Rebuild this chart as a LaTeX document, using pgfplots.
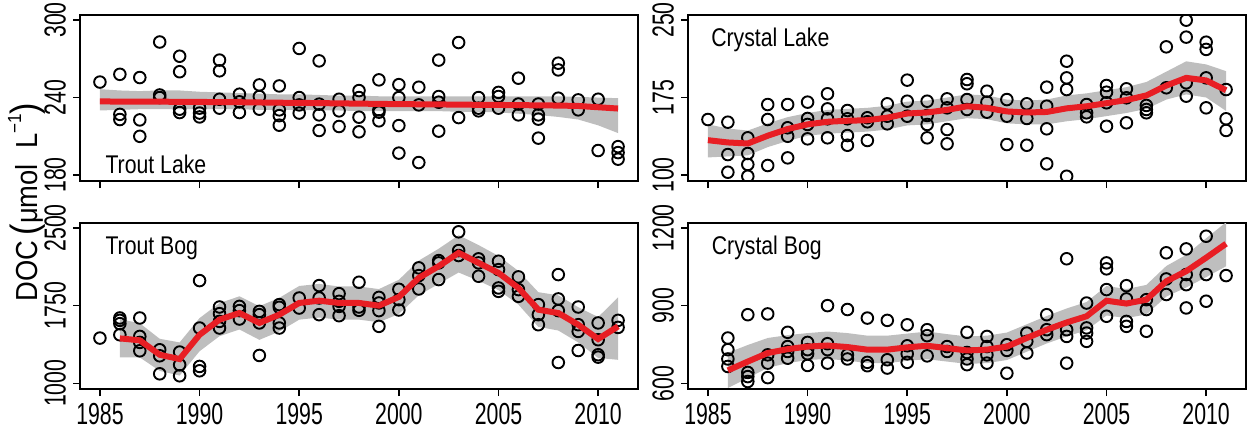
\documentclass[border=0pt]{standalone}
\usepackage{fontspec}
\setmainfont{Liberation Sans}
\newfontfamily\tickfont[FakeStretch=0.7]{Liberation Sans}
\newfontfamily\labfont[FakeStretch=0.83]{Liberation Sans}
\newfontfamily\ylabfont[FakeStretch=0.9]{Liberation Sans}
\usepackage{pgfplots}
\pgfplotsset{compat=1.18}
\usepackage{pgfplotstable}
\usepgfplotslibrary{groupplots,fillbetween}

\definecolor{fitred}{RGB}{232,30,36}
\definecolor{bandgray}{RGB}{190,190,190}

% fitted trend with confidence band
\pgfplotstableread{
yr fit lo hi
1985 237.0 230.0 246.5
1986 236.9 230.5 245.5
1987 236.8 231.0 245.0
1988 236.8 231.0 245.5
1989 236.7 231.0 245.5
1990 236.6 231.0 244.5
1991 236.5 231.0 244.0
1992 236.4 231.0 243.5
1993 236.2 230.5 243.0
1994 236.0 230.5 242.5
1995 235.9 230.5 242.5
1996 235.7 230.0 242.0
1997 235.5 230.0 241.5
1998 235.3 229.5 241.5
1999 235.1 229.5 241.0
2000 234.9 229.5 241.0
2001 234.8 229.5 241.0
2002 234.7 229.5 241.0
2003 234.5 229.0 241.0
2004 234.4 229.0 241.0
2005 234.3 228.5 241.0
2006 234.1 227.5 241.0
2007 234.0 226.5 241.0
2008 233.8 225.0 241.0
2009 233.5 223.0 240.5
2010 232.5 218.5 240.0
2011 231.5 212.5 239.5
}\tlfit

\pgfplotstableread{
yr fit lo hi
1985 133.7 117 149
1986 131.5 118 145
1987 130.5 119 143
1988 138.0 127 150
1989 144.5 133 156
1990 149.0 138 160
1991 151.5 140 163
1992 152.5 141 164
1993 153.0 142 165
1994 155.5 144 167
1995 159.5 148 171
1996 160.5 149 172
1997 163.0 152 175
1998 166.5 155 178
1999 165.0 154 177
2000 161.5 150 173
2001 160.5 149 172
2002 161.0 149 173
2003 164.5 152 177
2004 166.5 154 179
2005 169.5 157 182
2006 172.5 160 185
2007 177.0 164 190
2008 186.5 173 200
2009 194.0 178 210
2010 191.5 175 207
2011 182.0 162 200.5
}\clfit

\pgfplotstableread{
yr fit lo hi
1986 1434 1250 1620
1987 1415 1250 1580
1988 1276 1120 1430
1989 1234 1075 1395
1990 1469 1310 1630
1991 1615 1455 1775
1992 1679 1520 1840
1993 1583 1420 1745
1994 1663 1500 1825
1995 1776 1615 1940
1996 1798 1635 1960
1997 1776 1615 1935
1998 1776 1615 1935
1999 1750 1590 1910
2000 1834 1670 2000
2001 2018 1850 2185
2002 2131 1960 2300
2003 2260 2070 2430
2004 2163 1990 2335
2005 2066 1900 2230
2006 1921 1760 2085
2007 1711 1545 1880
2008 1679 1510 1850
2009 1566 1395 1735
2010 1428 1245 1640
2011 1550 1227 1830
}\tbfit

\pgfplotstableread{
yr fit lo hi
1986 650 582 718
1987 684 620 748
1988 717 660 775
1989 732 678 786
1990 742 690 794
1991 746 694 800
1992 740 688 794
1993 730 678 784
1994 730 678 784
1995 739 687 792
1996 745 693 800
1997 736 684 790
1998 727 675 781
1999 730 678 784
2000 742 690 796
2001 775 722 828
2002 807 754 860
2003 835 781 889
2004 859 805 914
2005 919 862 976
2006 908 852 964
2007 923 866 980
2008 994 935 1053
2009 1033 970 1096
2010 1085 1010 1160
2011 1139 1052 1222
}\cbfit

% observations
\pgfplotstableread{
x y
1985 252
1986 258
1986 227
1986 223
1987 255.5
1987 222.7
1987 210
1988 283
1988 242
1988 240
1989 272
1989 260
1989 231
1989 228.4
1990 231.8
1990 228
1990 225
1991 269
1991 260.7
1991 238.7
1991 231.8
1992 242.6
1992 236.7
1992 228.4
1993 249.8
1993 240.8
1993 231
1994 249
1994 230.5
1994 226
1994 218.6
1995 278
1995 240
1995 234.3
1995 228
1996 268.4
1996 234.9
1996 226.6
1996 214.5
1997 238.7
1997 229.7
1997 217.6
1998 245.4
1998 240
1998 224.8
1998 213.5
1999 253.7
1999 230.5
1999 228.7
1999 222
2000 250
2000 240
2000 218.3
2000 197
2001 248
2001 234.3
2001 189.7
2002 269
2002 240.8
2002 236.4
2002 214
2003 282.6
2003 224.5
2004 240
2004 231.8
2004 229.7
2005 244
2005 240.8
2005 231.8
2006 255
2006 235
2006 226.6
2007 235
2007 226.6
2007 223.3
2007 208.6
2008 266.6
2008 261.4
2008 239.5
2009 238.2
2009 230.5
2010 238.7
2010 199
2011 202
2011 197.4
2011 192.3
}\tlpts

\pgfplotstableread{
x y
1985 153.7
1986 151.1
1986 119.8
1986 102.7
1987 136
1987 120.8
1987 110.2
1987 98.8
1988 168.2
1988 153.7
1988 109.2
1989 168.2
1989 145.7
1989 137.5
1989 116.6
1990 170.5
1990 154.7
1990 148.9
1990 135
1991 178.6
1991 164
1991 154.4
1991 136
1992 162.4
1992 154.4
1992 138.2
1992 128.8
1993 155.4
1993 151.5
1993 133.4
1994 168.9
1994 156.9
1994 149.5
1995 191.8
1995 171.4
1995 156.9
1996 171.4
1996 157.6
1996 148.9
1996 136
1997 173.7
1997 165
1997 144
1997 130.2
1998 192.4
1998 188.3
1998 173
1998 163.4
1999 181.1
1999 170.5
1999 160.8
2000 173
2000 156.9
2000 129.5
2001 168.9
2001 154.7
2001 128.8
2002 185
2002 166.6
2002 144.7
2002 110.8
2003 210.1
2003 194
2003 182.7
2003 98.8
2004 168.2
2004 160.2
2004 156.3
2005 186.6
2005 180.1
2005 169.9
2005 147.2
2006 183.4
2006 174.7
2006 150.5
2007 167.3
2007 163.4
2007 160.2
2008 224
2008 184.4
2009 249.8
2009 233.4
2009 189.2
2009 176.3
2010 228.5
2010 221.5
2010 194
2010 165
2011 182.7
2011 154.4
2011 143.1
}\clpts

\pgfplotstableread{
x y
1985 1437
1986 1631
1986 1608
1986 1576
1986 1469
1987 1631
1987 1453
1987 1395
1987 1314
1988 1324
1988 1266
1988 1092
1989 1302
1989 1179
1989 1073
1990 1992
1990 1534
1990 1163
1990 1121
1991 1737
1991 1673
1991 1598
1991 1534
1992 1743
1992 1702
1992 1621
1993 1695
1993 1663
1993 1583
1993 1269
1994 1760
1994 1734
1994 1583
1994 1534
1995 1824
1995 1727
1996 1944
1996 1824
1996 1663
1997 1866
1997 1792
1997 1743
1997 1653
1998 1976
1998 1737
1998 1705
1999 1830
1999 1776
1999 1702
1999 1550
2000 1908
2000 1808
2000 1708
2001 2115
2001 2040
2001 1911
2002 2185
2002 2163
2002 2002
2003 2463
2003 2282
2003 2234
2004 2202
2004 2163
2004 2034
2005 2179
2005 2098
2005 1921
2005 1888
2006 2028
2006 1905
2006 1840
2007 1760
2007 1663
2007 1566
2008 2050
2008 1815
2008 1702
2008 1201
2009 1737
2009 1566
2009 1501
2009 1317
2010 1583
2010 1421
2010 1276
2010 1253
2011 1608
2011 1540
}\tbpts

\pgfplotstableread{
x y
1986 775
1986 730
1986 694
1986 665
1987 865
1987 642
1987 626
1987 607
1988 868
1988 710
1988 678
1988 622
1989 797
1989 742
1989 723
1989 697
1990 758
1990 730
1990 714
1990 669
1991 900
1991 753
1991 730
1991 678
1992 885
1992 710
1992 694
1993 852
1993 681
1993 668
1994 843
1994 691
1994 659
1995 826
1995 745
1995 714
1995 681
1996 807
1996 784
1996 706
1997 742
1997 723
1998 797
1998 719
1998 694
1998 672
1999 781
1999 742
1999 710
1999 678
2000 749
2000 727
2000 639
2001 794
2001 762
2001 717
2002 865
2002 807
2002 788
2003 1081
2003 807
2003 781
2003 678
2004 910
2004 814
2004 794
2004 762
2005 1065
2005 1042
2005 962
2005 859
2006 977
2006 926
2006 839
2006 820
2007 923
2007 885
2007 801
2008 1104
2008 1003
2008 943
2009 1119
2009 1020
2009 981
2009 891
2010 1168
2010 1020
2010 917
2011 1233
2011 1016
}\cbpts

\pgfplotsset{
  doc/.style={
    width=279pt, height=83pt, scale only axis,
    xmin=1984, xmax=2012,
    xtick={1985,1990,...,2010},
    tick align=outside, xtick pos=left, ytick pos=left,
    major tick length=3.5pt,
    axis line style={line width=0.75pt},
    every tick/.style={black, line width=0.75pt},
    /pgf/number format/1000 sep={},
    /pgf/number format/assume math mode=true,
    ticklabel style={font=\tickfont\fontsize{15.2}{16}\selectfont},
    yticklabel style={rotate=90, anchor=south},
    clip marker paths=true,
  },
  pts/.style={only marks, mark=o, mark size=2.9pt, black, mark options={line width=0.95pt}},
  fit/.style={fitred, line width=3pt, no marks},
  cband/.style={fill=bandgray, draw=none},
}
\tikzset{plab/.style={anchor=base west, inner sep=0pt, font=\labfont\fontsize{12.8}{14}\selectfont}}

\begin{document}
\begin{tikzpicture}
\begin{groupplot}[group style={group size=2 by 2, horizontal sep=25pt, vertical sep=21pt}, doc]

\nextgroupplot[ymin=175.4, ymax=303.9, ytick={180,240,300}, xticklabels={}]
\addplot[name path=tlhi, draw=none, forget plot] table[x=yr, y=hi] {\tlfit};
\addplot[name path=tllo, draw=none, forget plot] table[x=yr, y=lo] {\tlfit};
\addplot[cband] fill between[of=tlhi and tllo];
\addplot[pts] table {\tlpts};
\addplot[fit] table[x=yr, y=fit] {\tlfit};
\node[plab] at (rel axis cs:0.045,0.048) {Trout Lake};

\nextgroupplot[ymin=94.2, ymax=254.8, ytick={100,175,250}, xticklabels={}]
\addplot[name path=clhi, draw=none, forget plot] table[x=yr, y=hi] {\clfit};
\addplot[name path=cllo, draw=none, forget plot] table[x=yr, y=lo] {\clfit};
\addplot[cband] fill between[of=clhi and cllo];
\addplot[pts] table {\clpts};
\addplot[fit] table[x=yr, y=fit] {\clfit};
\node[plab] at (rel axis cs:0.041,0.811) {Crystal Lake};

\nextgroupplot[ymin=945, ymax=2548, ytick={1000,1750,2500}]
\addplot[name path=tbhi, draw=none, forget plot] table[x=yr, y=hi] {\tbfit};
\addplot[name path=tblo, draw=none, forget plot] table[x=yr, y=lo] {\tbfit};
\addplot[cband] fill between[of=tbhi and tblo];
\addplot[pts] table {\tbpts};
\addplot[fit] table[x=yr, y=fit] {\tbfit};
\node[plab] at (rel axis cs:0.045,0.809) {Trout Bog};

\nextgroupplot[ymin=578, ymax=1219, ytick={600,900,1200}]
\addplot[name path=cbhi, draw=none, forget plot] table[x=yr, y=hi] {\cbfit};
\addplot[name path=cblo, draw=none, forget plot] table[x=yr, y=lo] {\cbfit};
\addplot[cband] fill between[of=cbhi and cblo];
\addplot[pts] table {\cbpts};
\addplot[fit] table[x=yr, y=fit] {\cbfit};
\node[plab] at (rel axis cs:0.042,0.809) {Crystal Bog};
\end{groupplot}

\node[rotate=90, font=\ylabfont\fontsize{15.2}{16}\selectfont]
  at ([xshift=-26.5pt, yshift=-10.5pt]group c1r1.south west)
  {DOC\,{\fontsize{19}{19}\selectfont(}μmol\ \ L\raisebox{0.55em}{\fontsize{9.5}{10}\selectfont −1}{\fontsize{19}{19}\selectfont)}};

\pgfresetboundingbox
\path ([xshift=-40pt, yshift=7.5pt]group c1r1.north west) rectangle ([xshift=3pt, yshift=-21pt]group c2r2.south east);
\end{tikzpicture}
\end{document}
